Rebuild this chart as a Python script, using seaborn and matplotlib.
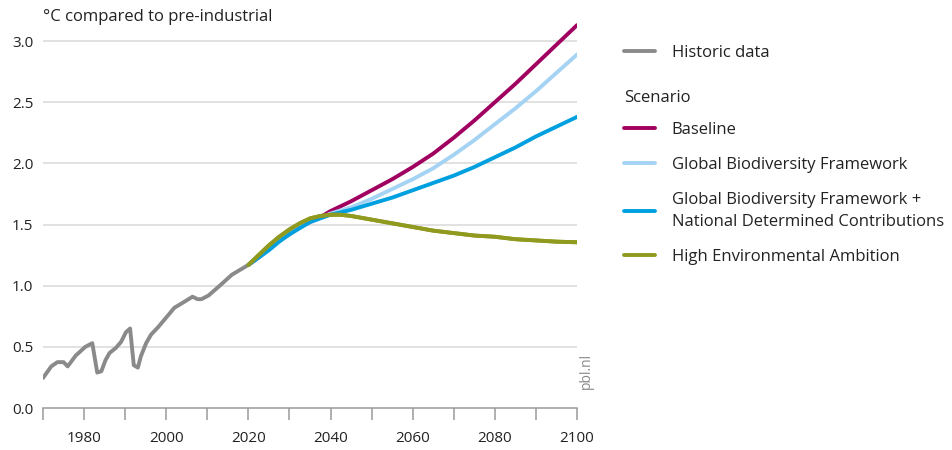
import matplotlib
matplotlib.use("Agg")
import matplotlib.pyplot as plt
import seaborn as sns
import pandas as pd
from matplotlib.lines import Line2D

# ---------------- data ----------------
hist_years = [1970, 1972, 1973.5, 1975, 1976, 1978, 1979, 1980.3, 1982, 1983.2, 1984.2,
              1985.2, 1986.2, 1987.7, 1989, 1990.2, 1991.2, 1992.1, 1993.1, 1993.8,
              1995.1, 1996.3, 1998, 2000, 2002, 2004, 2006.4, 2007.6, 2008.6, 2010.3,
              2012.7, 2016, 2020]
hist_values = [0.245, 0.34, 0.375, 0.375, 0.34, 0.43, 0.46, 0.50, 0.53, 0.29, 0.30,
               0.39, 0.45, 0.49, 0.54, 0.62, 0.65, 0.35, 0.33, 0.42,
               0.53, 0.60, 0.66, 0.74, 0.82, 0.86, 0.91, 0.89, 0.89, 0.92,
               0.99, 1.09, 1.17]

scen_years = [2020, 2022.5, 2025, 2027.5, 2030, 2032.5, 2035, 2037.5, 2040, 2042.5,
              2045, 2050, 2055, 2060, 2065, 2070, 2075, 2080, 2085, 2090, 2095, 2100]
baseline = [1.17, 1.23, 1.30, 1.37, 1.42, 1.48, 1.52, 1.56, 1.61, 1.65,
            1.69, 1.78, 1.87, 1.97, 2.08, 2.21, 2.35, 2.50, 2.65, 2.81, 2.97, 3.13]
gbf = [1.17, 1.23, 1.30, 1.37, 1.42, 1.48, 1.52, 1.555, 1.59, 1.615,
       1.64, 1.71, 1.79, 1.87, 1.96, 2.07, 2.19, 2.32, 2.45, 2.59, 2.74, 2.89]
gbf_ndc = [1.17, 1.23, 1.29, 1.36, 1.42, 1.47, 1.52, 1.55, 1.58, 1.60,
           1.62, 1.67, 1.72, 1.78, 1.84, 1.90, 1.97, 2.05, 2.13, 2.22, 2.30, 2.38]
hea = [1.17, 1.25, 1.33, 1.40, 1.46, 1.51, 1.55, 1.57, 1.58, 1.58,
       1.57, 1.54, 1.51, 1.48, 1.45, 1.43, 1.41, 1.40, 1.38, 1.37, 1.36, 1.355]

scenario_names = ["Baseline", "Global Biodiversity Framework",
                  "Global Biodiversity Framework +\nNational Determined Contributions",
                  "High Environmental Ambition"]
scenario_colors = ["#a0005f", "#a5d3f3", "#00a0e0", "#8f9a1f"]
hist_color = "#8a8a8a"

x_ticks_major = [1980, 2000, 2020, 2040, 2060, 2080, 2100]
x_ticks_minor = [1970, 1990, 2010, 2030, 2050, 2070, 2090]
y_ticks = [0.0, 0.5, 1.0, 1.5, 2.0, 2.5, 3.0]

# ---------------- frame ----------------
sns.set_theme(style="white")
plt.rcParams["font.family"] = ["Open Sans", "DejaVu Sans"]

hist_df = pd.DataFrame({"year": hist_years, "value": hist_values})
rows = []
for name, vals in zip(scenario_names, [baseline, gbf, gbf_ndc, hea]):
    for y, v in zip(scen_years, vals):
        rows.append({"year": y, "value": v, "scenario": name})
scen_df = pd.DataFrame(rows)

fig = plt.figure(figsize=(9.53, 4.5), dpi=100)
ax = fig.add_axes([43 / 953, 1 - 408 / 450, (577 - 43) / 953, (408 - 16.6) / 450])

for yt in y_ticks[1:]:
    ax.axhline(yt, color="#d9d9d9", lw=1.1, zorder=0)

LW = 2.8
sns.lineplot(data=hist_df, x="year", y="value", color=hist_color, lw=LW, ax=ax,
             legend=False, zorder=3)
sns.lineplot(data=scen_df, x="year", y="value", hue="scenario",
             hue_order=scenario_names, palette=scenario_colors, lw=LW, ax=ax,
             legend=False, zorder=4, sort=False)
sns.lineplot(data=scen_df[scen_df.scenario == scenario_names[3]], x="year", y="value",
             color=scenario_colors[3], lw=LW, ax=ax, legend=False, zorder=5)

ax.set_xlim(1970, 2100)
ax.set_ylim(0, 3.2)
ax.set_xlabel("")
ax.set_ylabel("")
for s in ["top", "right", "left"]:
    ax.spines[s].set_visible(False)
ax.spines["bottom"].set_color("#9a9a9a")
ax.spines["bottom"].set_linewidth(1.1)

ax.set_xticks(x_ticks_major)
ax.set_xticklabels([str(t) for t in x_ticks_major])
ax.set_xticks(x_ticks_minor, minor=True)
ax.tick_params(axis="x", which="both", direction="out", length=8.5, width=1.1,
               color="#9a9a9a", pad=8, labelsize=11, labelcolor="#222222", bottom=True)
ax.set_yticks(y_ticks)
ax.set_yticklabels([f"{t:.1f}" for t in y_ticks])
ax.tick_params(axis="y", length=0, pad=7, labelsize=11, labelcolor="#222222")

fig.text(43 / 953, 1 - 17 / 450, "°C compared to pre-industrial", fontsize=12,
         color="#222222", va="center", ha="left")
fig.text(586 / 953, 1 - 371 / 450, "pbl.nl", rotation=90, fontsize=10,
         color="#8a8a8a", va="center", ha="center")

# ---------------- legend ----------------
FS = 12
leg1 = fig.legend(handles=[Line2D([], [], color=hist_color, lw=LW)],
                  labels=["Historic data"], loc="upper left",
                  bbox_to_anchor=(624 / 953, 1 - 45 / 450), frameon=False,
                  fontsize=FS, handlelength=1.86, handletextpad=1.0,
                  borderaxespad=0, borderpad=0)
fig.text(624 / 953, 1 - 98 / 450, "Scenario", fontsize=FS, color="#222222",
         va="center", ha="left")
handles = [Line2D([], [], color=c, lw=LW) for c in scenario_colors]
leg2 = fig.legend(handles=handles, labels=scenario_names, loc="upper left",
                  bbox_to_anchor=(624 / 953, 1 - 122 / 450), frameon=False,
                  fontsize=FS, handlelength=1.86, handletextpad=1.0,
                  labelspacing=1.15, borderaxespad=0, borderpad=0)
for t in leg1.get_texts() + leg2.get_texts():
    t.set_color("#222222")
    t.set_linespacing(1.45)

fig.savefig("out.png", dpi=100)
